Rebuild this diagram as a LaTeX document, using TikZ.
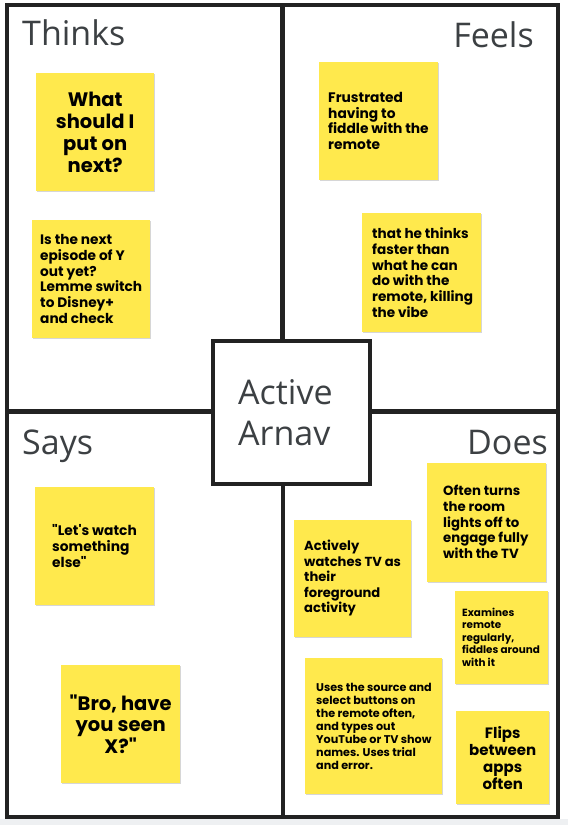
\documentclass[tikz,border=0pt]{standalone}
\usepackage{fontspec}
\setmainfont{Open Sans}
\newfontfamily\stickyfont{Poppins}
\usetikzlibrary{shadows}
\definecolor{stickyyellow}{RGB}{255,233,77}
\definecolor{frameline}{RGB}{34,34,34}
\definecolor{headgray}{RGB}{60,64,67}
\definecolor{bottomgray}{RGB}{238,240,242}
\newcommand\stk[2]{\stickyfont\bfseries\fontsize{#1}{#2}\selectfont}
\tikzset{
  quad/.style={draw=frameline, line width=4pt},
  sticky/.style={fill=stickyyellow, draw=none, inner sep=0pt, anchor=north west,
    drop shadow={shadow xshift=0.6pt, shadow yshift=-1.2pt, opacity=0.35, fill=black!45}},
  head/.style={text=headgray, font=\fontsize{34}{40}\selectfont, inner sep=0pt},
  stext/.style={inner sep=0pt, align=left, anchor=west, text=black},
  ctext/.style={inner sep=0pt, align=center, anchor=center, text=black},
}
\begin{document}
\begin{tikzpicture}[x=1pt, y=-1pt]
\useasboundingbox (0,0) rectangle (568,825);
\fill[white] (0,0) rectangle (568,825);
\fill[bottomgray] (0,819) rectangle (568,825);
% quadrants
\draw[quad] (7,5) rectangle (282,411);
\draw[quad] (283,5) rectangle (558,411);
\draw[quad] (7,412) rectangle (283,817);
\draw[quad] (283,412) rectangle (558,817);
\node[head, anchor=base west] (thinks) at (22,45) {Thinks};
\node[head, anchor=base east] (feels) at (534,47) {Feels};
\node[head, anchor=base west] (says) at (22,454) {Says};
\node[head, anchor=base east] (does) at (548,454) {Does};
% center box
\draw[quad, fill=white] (213,341) rectangle (370,484);
\node[text=headgray, font=\fontsize{34}{41}\selectfont, inner sep=0pt, align=left, anchor=west] (persona) at (238,413) {Active\\Arnav};
% Thinks
\node[sticky, minimum width=118pt, minimum height=118pt] (n1) at (36,73) {};
\node[ctext, font=\stk{19.5}{22}] (t1) at (n1.center) {What\\should I\\put on\\next?};
\node[sticky, minimum width=118pt, minimum height=118pt] (n2) at (32,220) {};
\node[stext, font=\stk{13.7}{15.7}] (t2) at (40,279) {Is the next\\episode of Y\\out yet?\\Lemme switch\\to Disney+\\and check};
% Feels
\node[sticky, minimum width=119pt, minimum height=118pt] (n3) at (319,62) {};
\node[stext, font=\stk{13.8}{15.6}] (t3) at (328,121) {Frustrated\\having to\\fiddle with the\\remote};
\node[sticky, minimum width=119pt, minimum height=119pt] (n4) at (362,213) {};
\node[stext, font=\stk{13.6}{15.7}] (t4) at (372,272.5) {that he thinks\\faster than\\what he can\\do with the\\remote, killing\\the vibe};
% Says
\node[sticky, minimum width=119pt, minimum height=118pt] (n5) at (35,487) {};
\node[stext, font=\stk{13.8}{16.2}] (t5) at (52,546) {"Let's watch\\something\\else"};
\node[sticky, minimum width=119pt, minimum height=118pt] (n6) at (61,665) {};
\node[ctext, font=\stk{19.5}{21.7}] (t6) at (n6.center) {"Bro, have\\you seen\\X?"};
% Does
\node[sticky, minimum width=117pt, minimum height=117pt] (n7) at (294,520) {};
\node[stext, font=\stk{13.1}{15.5}] (t7) at (304,578) {Actively\\watches TV as\\their\\foreground\\activity};
\node[sticky, minimum width=119pt, minimum height=119pt] (n8) at (427,463) {};
\node[stext, font=\stk{13.3}{15.7}] (t8) at (443,522) {Often turns\\the room\\lights off to\\engage fully\\with the TV};
\node[sticky, minimum width=93pt, minimum height=93pt] (n9) at (455,591) {};
\node[stext, font=\stk{10.4}{12.5}] (t9) at (462,637) {Examines\\remote\\regularly,\\fiddles around\\with it};
\node[sticky, minimum width=137pt, minimum height=136pt] (n10) at (305,658) {};
\node[stext, font=\stk{11.2}{13}] (t10) at (316,726) {Uses the source and\\select buttons on\\the remote often,\\and types out\\YouTube or TV show\\names. Uses trial\\and error.};
\node[sticky, minimum width=93pt, minimum height=93pt] (n11) at (456,711) {};
\node[ctext, font=\stk{15}{17}] (t11) at (n11.center) {Flips\\between\\apps\\often};
\end{tikzpicture}
\end{document}
